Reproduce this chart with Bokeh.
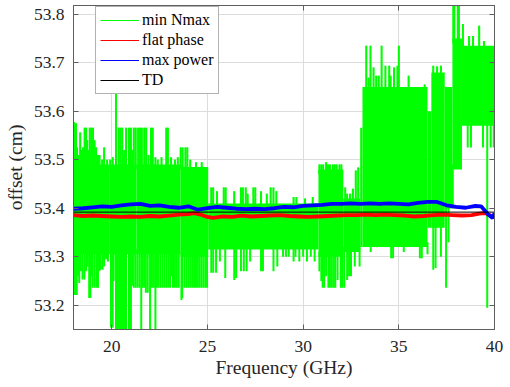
from bokeh.plotting import figure
from bokeh.models import Range1d, LinearAxis, Legend, LegendItem, FixedTicker
from bokeh.embed import file_html
from bokeh.resources import INLINE

# ---------------- data ----------------
x_ticks = [20, 25, 30, 35, 40]
y_ticks = [53.2, 53.3, 53.4, 53.5, 53.6, 53.7, 53.8]

freq_blue = [18.0, 18.5, 19.0, 19.5, 20.0, 20.5, 21.0, 21.5, 22.0, 22.5, 23.0, 23.5,
             24.0, 24.5, 25.0, 25.5, 26.0, 26.5, 27.0, 27.5, 28.0, 28.5, 29.0, 29.5,
             30.0, 30.5, 31.0, 31.5, 32.0, 32.5, 33.0, 33.5, 34.0, 34.5, 35.0, 35.5,
             36.0, 36.5, 37.0, 37.5, 38.0, 38.5, 39.0, 39.3, 39.5, 39.7, 39.9, 40.0]
max_power = [53.399, 53.400, 53.402, 53.404, 53.403, 53.406, 53.408, 53.409, 53.405,
             53.406, 53.403, 53.401, 53.404, 53.397, 53.400, 53.403, 53.401, 53.399,
             53.398, 53.399, 53.398, 53.400, 53.403, 53.402, 53.405, 53.406, 53.407,
             53.409, 53.409, 53.410, 53.409, 53.410, 53.409, 53.410, 53.409, 53.408,
             53.411, 53.413, 53.413, 53.406, 53.403, 53.401, 53.405, 53.404, 53.395,
             53.386, 53.380, 53.390]

freq_red = [18.0, 18.5, 19.0, 19.5, 20.0, 20.5, 21.0, 21.5, 22.0, 22.5, 23.0, 23.5,
            24.0, 24.3, 24.7, 25.0, 25.3, 25.8, 26.3, 26.8, 27.3, 27.8, 28.3, 28.8,
            29.3, 29.8, 30.3, 30.8, 31.3, 31.8, 32.3, 32.8, 33.3, 33.8, 34.3, 34.8,
            35.3, 35.8, 36.3, 36.8, 37.3, 37.8, 38.3, 38.8, 39.2, 39.5, 39.8, 40.0]
flat_phase = [53.386, 53.384, 53.385, 53.384, 53.383, 53.382, 53.383, 53.382, 53.384,
              53.383, 53.385, 53.387, 53.388, 53.390, 53.386, 53.382, 53.380, 53.383,
              53.382, 53.385, 53.383, 53.384, 53.385, 53.386, 53.384, 53.383, 53.382,
              53.383, 53.384, 53.385, 53.386, 53.386, 53.387, 53.386, 53.387, 53.386,
              53.385, 53.383, 53.384, 53.386, 53.387, 53.386, 53.385, 53.386, 53.389,
              53.390, 53.385, 53.382]

freq_td = [18.0, 40.0]
td = [53.392, 53.392]

# min Nmax: dense bands (frequency span and value span)
band_f0 = [18.0, 19.9, 21.3, 23.6, 25.04, 30.8, 32.1, 32.98, 33.1, 36.5, 36.7, 37.4, 37.8, 38.3, 20.17]
band_f1 = [19.9, 21.3, 23.6, 25.04, 30.8, 32.1, 32.98, 33.1, 36.5, 36.7, 37.4, 37.8, 38.3, 40.0, 20.8]
band_lo = [53.305, 53.305, 53.305, 53.30, 53.315, 53.30, 53.31, 53.32, 53.32, 53.36, 53.36,
           53.40, 53.48, 53.57, 53.15]
band_hi = [53.49, 53.49, 53.49, 53.485, 53.41, 53.48, 53.42, 53.566, 53.65, 53.60, 53.68,
           53.65, 53.75, 53.735, 53.31]

# min Nmax: upward spikes (frequency, peak value)
up_f = [18.02, 18.08, 18.13, 18.19, 18.27, 18.35, 18.43, 18.5, 18.58, 18.66, 18.72, 18.77,
        18.85, 18.93, 19.02, 19.1, 19.18, 19.28, 19.36, 19.5, 19.6, 19.76, 19.92, 20.05,
        20.22, 20.36, 20.45, 20.55, 20.65, 20.75, 20.9, 21.0, 21.08, 21.15, 21.25, 21.38,
        21.48, 21.57, 21.7, 21.8, 21.92, 22.05, 22.14, 22.28, 22.4, 22.6, 22.85, 22.93,
        23.1, 23.3, 23.45, 23.6, 23.7, 23.85, 23.95, 24.1, 24.4, 24.7,
        25.2, 25.3, 25.5, 25.85, 25.95, 26.4, 26.75, 26.85, 27.0, 27.1, 27.4, 27.5, 27.8,
        28.1, 28.3, 28.45, 28.6, 29.5, 29.65, 30.1, 30.5,
        30.85, 30.95, 31.05, 31.2, 31.3, 31.4, 31.55, 31.65, 31.75, 31.9, 32.0,
        32.2, 32.3, 32.45, 32.6, 32.75, 32.88,
        33.3, 33.42, 33.52, 33.68, 33.82, 33.95, 34.1, 34.3, 34.5, 34.57, 34.75, 34.93,
        35.0, 35.51, 36.35, 36.8, 37.0, 37.2, 37.85, 37.9, 38.08, 38.14,
        38.35, 38.67, 38.88, 39.2, 39.45]
up_peak = [53.578, 53.570, 53.575, 53.525, 53.51, 53.556, 53.52, 53.525, 53.566, 53.566,
           53.54, 53.52, 53.566, 53.566, 53.566, 53.54, 53.525, 53.51, 53.51, 53.50, 53.525,
           53.50, 53.50, 53.505, 53.642, 53.566, 53.566, 53.566, 53.52, 53.566, 53.566,
           53.566, 53.52, 53.566, 53.566, 53.566, 53.566, 53.566, 53.566, 53.566, 53.51,
           53.566, 53.566, 53.505, 53.50, 53.505, 53.566, 53.566, 53.505, 53.50, 53.505,
           53.525, 53.525, 53.525, 53.525, 53.50, 53.495, 53.495,
           53.443, 53.443, 53.435, 53.443, 53.443, 53.435, 53.443, 53.443, 53.443, 53.43,
           53.443, 53.443, 53.435, 53.43, 53.443, 53.443, 53.435, 53.423, 53.423, 53.42,
           53.423,
           53.49, 53.49, 53.49, 53.495, 53.49, 53.49, 53.49, 53.49, 53.49, 53.49, 53.49,
           53.443, 53.43, 53.43, 53.44, 53.478, 53.484,
           53.735, 53.669, 53.735, 53.69, 53.673, 53.673, 53.735, 53.694, 53.694, 53.673,
           53.69, 53.694, 53.735, 53.673, 53.655, 53.694, 53.692, 53.694, 53.82, 53.82,
           53.82, 53.82,
           53.78, 53.755, 53.755, 53.776, 53.745]

# min Nmax: downward spikes (frequency, lowest value)
dn_f = [18.03, 18.1, 18.17, 18.24, 18.3, 18.38, 18.47, 18.57, 18.66, 18.74, 18.82, 18.88,
        18.94, 19.0, 19.1, 19.2, 19.28, 19.35, 19.42, 19.52, 19.6, 19.7, 19.8, 19.96, 20.05,
        20.1, 20.9, 20.95, 21.0, 21.07, 21.15, 21.25, 21.35, 21.45, 21.54, 21.62, 21.7,
        21.78, 21.88, 22.0, 22.1, 22.2, 22.28, 22.36, 22.45, 22.55, 22.65, 22.75, 22.85,
        22.95, 23.05, 23.12, 23.2, 23.3, 23.4, 23.5, 23.64, 23.68, 23.8, 23.9, 24.0, 24.1,
        24.2, 24.3, 24.4, 24.5, 24.6, 24.7, 24.8, 24.9, 24.98,
        25.2, 25.3, 25.45, 25.65, 25.93, 26.4, 26.5, 26.75, 26.9, 27.05, 27.23, 27.8, 27.9,
        28.45, 28.65, 28.95, 29.1, 29.25, 29.5, 29.6, 29.8, 30.0, 30.2, 30.4, 30.6,
        30.85, 30.95, 31.02, 31.1, 31.2, 31.32, 31.4, 31.5, 31.6, 31.68, 31.8, 31.97,
        32.05, 32.15, 32.3, 32.4, 32.5, 32.7, 32.95,
        33.53, 34.6, 34.7, 35.26, 36.1, 36.2, 36.5, 36.8, 36.92, 37.2, 37.47, 37.6, 37.82,
        38.6, 38.77, 39.4, 39.62, 39.8, 39.96]
dn_low = [53.221, 53.221, 53.221, 53.26, 53.246, 53.27, 53.253, 53.253, 53.27, 53.28,
          53.215, 53.215, 53.26, 53.236, 53.236, 53.236, 53.236, 53.27, 53.273, 53.273,
          53.28, 53.295, 53.29, 53.154, 53.154, 53.25, 53.15, 53.236, 53.15, 53.24, 53.236,
          53.236, 53.236, 53.236, 53.15, 53.236, 53.236, 53.226, 53.226, 53.15, 53.236,
          53.236, 53.15, 53.236, 53.236, 53.236, 53.236, 53.236, 53.236, 53.236, 53.236,
          53.26, 53.236, 53.236, 53.236, 53.236, 53.211, 53.215, 53.236, 53.236, 53.236,
          53.236, 53.236, 53.236, 53.236, 53.236, 53.236, 53.236, 53.236, 53.236, 53.236,
          53.267, 53.267, 53.267, 53.29, 53.256, 53.252, 53.256, 53.27, 53.27, 53.27, 53.29,
          53.27, 53.27, 53.27, 53.28, 53.30, 53.30, 53.30, 53.29, 53.30, 53.29, 53.30,
          53.29, 53.30, 53.29,
          53.27, 53.25, 53.236, 53.236, 53.26, 53.236, 53.236, 53.236, 53.236, 53.236,
          53.252, 53.236, 53.236, 53.236, 53.252, 53.26, 53.26, 53.28, 53.28,
          53.31, 53.297, 53.297, 53.31, 53.297, 53.297, 53.305, 53.273, 53.277, 53.30,
          53.236, 53.33, 53.40,
          53.525, 53.525, 53.525, 53.195, 53.525, 53.525]

# ---------------- figure ----------------
SERIF = "Liberation Serif"
AX = "#5e5e5e"

p = figure(width=510, height=387, output_backend="svg", toolbar_location=None,
           x_range=Range1d(18, 40), y_range=Range1d(53.15, 53.818),
           min_border_left=73, min_border_right=16, min_border_top=5, min_border_bottom=58)
p.background_fill_color = "white"
p.border_fill_color = "white"
p.outline_line_color = AX
p.outline_line_width = 1


def band_of(f):
    for a, b, lo, hi in zip(band_f0[:14], band_f1[:14], band_lo[:14], band_hi[:14]):
        if a <= f <= b:
            return lo, hi
    return band_lo[-2], band_hi[-2]


up_base = [band_of(f)[1] - 0.01 for f in up_f]
dn_base = [band_of(f)[0] + 0.01 for f in dn_f]

GREEN = "#00ff00"
# thin copies first (they give the legend swatches), then the visible wide traces
g_thin = p.segment(x0=up_f, y0=up_base, x1=up_f, y1=up_peak, line_color=GREEN, line_width=1.2)
r_thin = p.line(freq_red, flat_phase, line_color="#ff0000", line_width=1.2)
b_thin = p.line(freq_blue, max_power, line_color="#0000ff", line_width=1.2)

p.quad(left=band_f0, right=band_f1, bottom=band_lo, top=band_hi,
       fill_color=GREEN, line_color=None)
p.segment(x0=up_f, y0=up_base, x1=up_f, y1=up_peak, line_color=GREEN, line_width=2)
p.segment(x0=dn_f, y0=dn_base, x1=dn_f, y1=dn_low, line_color=GREEN, line_width=2)
p.line(freq_red, flat_phase, line_color="#ff0000", line_width=3.8)
p.line(freq_blue, max_power, line_color="#0000ff", line_width=3.8)
k_line = p.line(freq_td, td, line_color="#000000", line_width=1)

legend = Legend(items=[LegendItem(label="min Nmax", renderers=[g_thin]),
                       LegendItem(label="flat phase", renderers=[r_thin]),
                       LegendItem(label="max power", renderers=[b_thin]),
                       LegendItem(label="TD", renderers=[k_line])],
                location=(22, 235))
legend.label_text_font = SERIF
legend.label_text_font_size = "16px"
legend.label_text_color = "#000000"
legend.glyph_width = 39
legend.glyph_height = 16
legend.label_height = 16
legend.label_standoff = 3
legend.padding = 4
legend.spacing = 2
legend.margin = 0
legend.border_line_color = "#666666"
legend.border_line_width = 1.5
legend.background_fill_color = "white"
legend.background_fill_alpha = 1
p.add_layout(legend)

# grid
p.xgrid.ticker = FixedTicker(ticks=x_ticks)
p.ygrid.ticker = FixedTicker(ticks=y_ticks)
p.grid.grid_line_color = "#dcdcdc"
p.grid.grid_line_width = 1

# main axes
xa = p.xaxis[0]
ya = p.yaxis[0]
xa.ticker = FixedTicker(ticks=x_ticks)
ya.ticker = FixedTicker(ticks=y_ticks)
for ax in (xa, ya):
    ax.major_tick_in = 5
    ax.major_tick_out = 0
    ax.minor_tick_in = 0
    ax.minor_tick_out = 0
    ax.axis_line_color = AX
    ax.major_tick_line_color = AX
    ax.major_label_text_font = SERIF
    ax.major_label_text_font_size = "17.5px"
    ax.major_label_text_color = "#262626"
    ax.axis_label_text_font = SERIF
    ax.axis_label_text_font_size = "19.5px"
    ax.axis_label_text_font_style = "normal"
    ax.axis_label_text_color = "#262626"
xa.axis_label = "Frequency (GHz)"
ya.axis_label = "offset (cm)"
xa.major_label_standoff = 11
xa.axis_label_standoff = 2
ya.major_label_standoff = 9
ya.axis_label_standoff = 5

# box axes (top / right) with inward ticks only, no labels
for side, tks in (("above", x_ticks), ("right", y_ticks)):
    ax = LinearAxis(ticker=FixedTicker(ticks=tks))
    ax.major_tick_in = 5
    ax.major_tick_out = 0
    ax.minor_tick_in = 0
    ax.minor_tick_out = 0
    ax.major_label_overrides = {t: "" for t in tks}
    ax.major_label_text_color = None
    ax.major_label_standoff = 0
    ax.axis_line_color = AX
    ax.major_tick_line_color = AX
    p.add_layout(ax, side)

open("out.html", "w").write(file_html(p, INLINE))
